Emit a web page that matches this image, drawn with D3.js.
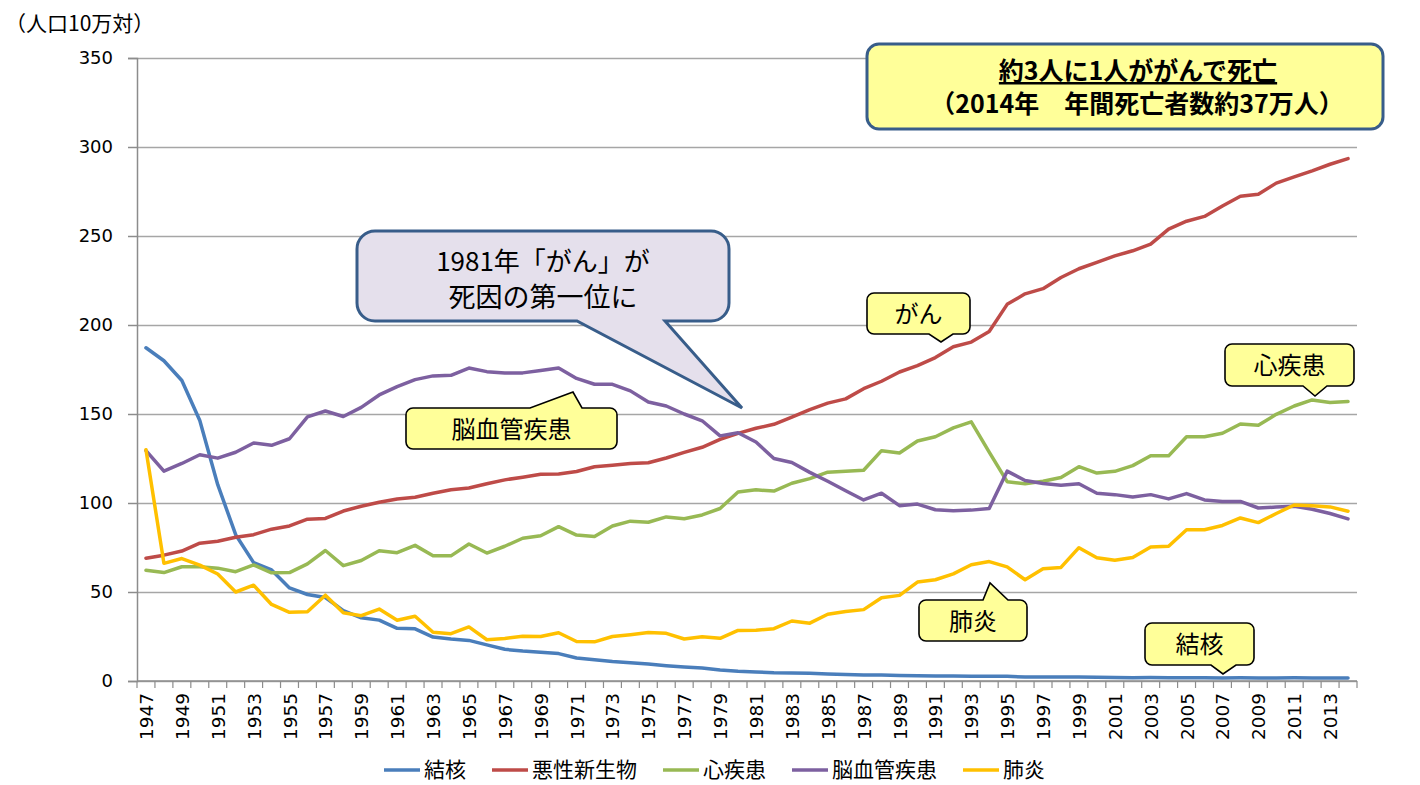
<!DOCTYPE html>
<html lang="ja">
<head>
<meta charset="utf-8">
<title>主要死因別死亡率の推移</title>
<script src="https://cdn.jsdelivr.net/npm/d3@7"></script>
<style>
  body { margin: 0; background: #fff; }
  svg { display: block; }
  .jp { font-family: "Noto Sans CJK JP", "Noto Sans", sans-serif; }
  .num { font-family: "DejaVu Sans", sans-serif; }
</style>
</head>
<body>
<div id="chart"></div>
<script>
// categories
var years = d3.range(1947, 2015);
var seriesNames = ["結核", "悪性新生物", "心疾患", "脳血管疾患", "肺炎"];
var seriesColors = ["#4a7ebb", "#be4b48", "#98b954", "#7d60a0", "#ffc000"];
var yTicks = [0, 50, 100, 150, 200, 250, 300, 350];

// death rates per 100,000, 1947..2014
var tuberculosis = [187.2,179.9,168.8,146.4,110.3,82.2,66.5,62.4,52.3,48.6,46.9,39.5,35.5,34.2,29.6,29.3,24.7,23.6,22.8,20.3,
  17.8,16.8,16.1,15.4,12.9,11.9,10.9,10.3,9.5,8.6,7.9,7.3,6.2,5.5,5.1,4.6,4.5,4.3,3.9,3.6,
  3.4,3.4,3.1,3.0,2.8,2.8,2.6,2.6,2.6,2.3,2.2,2.2,2.3,2.1,2.0,1.8,1.9,1.8,1.8,1.8,
  1.7,1.8,1.7,1.7,1.8,1.7,1.7,1.7];
var cancer = [69.0,70.7,73.0,77.4,78.5,80.8,82.2,85.3,87.1,90.9,91.3,95.5,98.2,100.4,102.3,103.2,105.5,107.4,108.4,110.8,
  113.0,114.5,116.1,116.3,117.7,120.4,121.2,122.2,122.6,125.3,128.4,131.3,135.7,139.1,142.0,144.2,148.3,152.5,156.1,158.5,
  164.2,168.4,173.6,177.2,181.7,187.8,190.4,196.4,211.6,217.5,220.4,226.7,231.6,235.2,238.8,241.7,245.4,253.9,258.3,261.0,
  266.9,272.3,273.5,279.7,283.2,286.6,290.3,293.5];
var heart = [62.2,60.9,64.2,64.2,63.4,61.4,65.2,60.8,60.9,65.8,73.3,64.8,67.7,73.2,72.1,76.2,70.4,70.3,77.0,71.9,
  75.7,80.2,81.6,86.7,82.0,81.2,87.1,89.8,89.2,92.2,91.2,93.3,96.9,106.2,107.4,106.7,111.1,113.7,117.3,117.9,
  118.4,129.4,128.1,134.8,137.2,142.2,145.6,128.6,112.0,110.8,112.2,114.3,120.4,116.8,117.8,121.0,126.5,126.5,137.2,137.2,
  139.2,144.4,143.7,149.8,154.5,157.9,156.5,157.0];
var cerebro = [129.4,117.9,122.2,127.1,125.2,128.5,133.7,132.4,136.1,148.4,151.7,148.6,153.7,160.7,165.4,169.3,171.4,171.7,175.8,173.8,
  173.1,173.1,174.4,175.8,170.0,166.7,166.7,163.0,156.7,154.5,150.0,146.2,137.7,139.5,134.3,125.0,122.8,117.2,112.2,106.9,
  101.7,105.5,98.5,99.4,96.2,95.6,96.0,96.9,117.9,112.6,111.0,110.0,110.8,105.5,104.7,103.4,104.7,102.3,105.3,101.7,
  100.8,100.9,97.2,97.7,98.2,96.5,94.1,91.1];
var pneumonia = [129.9,66.1,68.8,65.1,60.1,50.0,53.8,43.0,38.6,38.9,48.2,38.3,36.7,40.4,34.1,36.4,27.4,26.6,30.4,23.2,
  23.9,25.2,25.0,27.1,22.2,22.0,25.0,26.0,27.2,26.8,23.6,24.9,24.0,28.4,28.5,29.4,33.7,32.5,37.5,39.0,
  40.1,46.8,48.1,55.6,56.9,60.2,65.3,67.1,64.1,56.9,63.1,63.8,74.9,69.2,67.8,69.4,75.3,75.7,85.0,85.0,
  87.4,91.6,89.0,94.1,98.9,98.4,97.8,95.4];
var seriesValues = [tuberculosis, cancer, heart, cerebro, pneumonia];

var W = 1420, H = 785;
var plot = {left: 137, right: 1357, top: 58, bottom: 681};

var svg = d3.select("#chart").append("svg").attr("width", W).attr("height", H);

var x = d3.scaleBand().domain(years).range([plot.left, plot.right]);
var y = d3.scaleLinear().domain([0, 350]).range([plot.bottom, plot.top]);
var cx = function(yr) { return x(yr) + x.bandwidth() / 2; };

// gridlines
svg.append("g")
  .attr("transform", "translate(" + plot.left + ",0)")
  .call(d3.axisLeft(y).tickValues(yTicks).tickSize(-(plot.right - plot.left)).tickFormat(""))
  .call(function(g) {
    g.select(".domain").remove();
    g.selectAll("line").attr("stroke", "#a6a6a6").attr("stroke-width", 1.5);
  });

// y axis
svg.append("g")
  .attr("transform", "translate(" + plot.left + ",0)")
  .call(d3.axisLeft(y).tickValues(yTicks).tickSize(9).tickPadding(15))
  .call(function(g) {
    g.select(".domain").attr("stroke", "#8c8c8c").attr("stroke-width", 1.5);
    g.selectAll("line").attr("stroke", "#8c8c8c").attr("stroke-width", 1.5);
    g.selectAll("text").attr("class", "num").attr("font-size", 18).attr("fill", "#000");
  });

svg.append("text").attr("class", "jp").attr("x", 5).attr("y", 31)
  .attr("font-size", 21).text("（人口10万対）");

// x axis
var xg = svg.append("g");
xg.append("line")
  .attr("x1", plot.left).attr("x2", plot.right)
  .attr("y1", plot.bottom).attr("y2", plot.bottom)
  .attr("stroke", "#8c8c8c").attr("stroke-width", 1.5);
xg.selectAll("line.tick").data(years.concat([null])).enter().append("line")
  .attr("class", "tick")
  .attr("x1", function(d) { return d === null ? plot.right : x(d); })
  .attr("x2", function(d) { return d === null ? plot.right : x(d); })
  .attr("y1", plot.bottom).attr("y2", plot.bottom + 7)
  .attr("stroke", "#8c8c8c").attr("stroke-width", 1.2);
xg.selectAll("text").data(years.filter(function(d) { return d % 2 === 1; })).enter().append("text")
  .attr("class", "num")
  .attr("font-size", 18.5)
  .attr("text-anchor", "end")
  .attr("transform", function(d) { return "translate(" + (cx(d) + 7) + "," + (plot.bottom + 12) + ") rotate(-90)"; })
  .text(function(d) { return d; });

// series lines
var line = d3.line()
  .x(function(d, i) { return cx(years[i]); })
  .y(function(d) { return y(d); });

svg.append("g").selectAll("path").data(seriesValues).enter().append("path")
  .attr("d", line)
  .attr("fill", "none")
  .attr("stroke", function(d, i) { return seriesColors[i]; })
  .attr("stroke-width", 3.5)
  .attr("stroke-linejoin", "round")
  .attr("stroke-linecap", "round");

// legend
var lg = svg.append("g").attr("transform", "translate(0,770)");
var lx = 384;
seriesNames.forEach(function(name, i) {
  lg.append("line").attr("x1", lx).attr("x2", lx + 36).attr("y1", 0).attr("y2", 0)
    .attr("stroke", seriesColors[i]).attr("stroke-width", 3.5);
  var t = lg.append("text").attr("class", "jp").attr("x", lx + 40).attr("y", 7)
    .attr("font-size", 21).text(name);
  lx += 40 + t.node().getComputedTextLength() + 26;
});

// callouts
function calloutPath(bx, by, w, h, r, side, a, b, tx, ty) {
  var d = "M" + (bx + r) + "," + by;
  if (side === "top") d += "L" + a + "," + by + "L" + tx + "," + ty + "L" + b + "," + by;
  d += "L" + (bx + w - r) + "," + by + "A" + r + "," + r + " 0 0 1 " + (bx + w) + "," + (by + r);
  d += "L" + (bx + w) + "," + (by + h - r) + "A" + r + "," + r + " 0 0 1 " + (bx + w - r) + "," + (by + h);
  if (side === "bottom") d += "L" + b + "," + (by + h) + "L" + tx + "," + ty + "L" + a + "," + (by + h);
  d += "L" + (bx + r) + "," + (by + h) + "A" + r + "," + r + " 0 0 1 " + bx + "," + (by + h - r);
  d += "L" + bx + "," + (by + r) + "A" + r + "," + r + " 0 0 1 " + (bx + r) + "," + by + "Z";
  return d;
}

var labels = [
  {text: "がん", box: [867, 293, 103, 41], side: "bottom", p: [929, 953, 941, 342]},
  {text: "心疾患", box: [1225, 344, 129, 42], side: "bottom", p: [1303, 1327, 1315, 396]},
  {text: "脳血管疾患", box: [406, 408, 211, 41], side: "top", p: [530, 582, 573, 392]},
  {text: "肺炎", box: [919, 600, 108, 41], side: "top", p: [983, 1008, 990, 583]},
  {text: "結核", box: [1145, 623, 109, 42], side: "bottom", p: [1211, 1236, 1223, 674]}
];
labels.forEach(function(c) {
  var bx = c.box[0], by = c.box[1], w = c.box[2], h = c.box[3];
  svg.append("path")
    .attr("d", calloutPath(bx, by, w, h, 7, c.side, c.p[0], c.p[1], c.p[2], c.p[3]))
    .attr("fill", "#ffff99").attr("stroke", "#000").attr("stroke-width", 1.6);
  svg.append("text").attr("class", "jp")
    .attr("x", bx + w / 2).attr("y", by + h / 2 + 9)
    .attr("text-anchor", "middle").attr("font-size", 24).text(c.text);
});

// big callout
svg.append("path")
  .attr("d", calloutPath(357, 231, 372, 90, 18, "bottom", 577, 665, 742, 408))
  .attr("fill", "#e5e0ec").attr("stroke", "#385d8a").attr("stroke-width", 3);
svg.append("text").attr("class", "jp").attr("x", 543).attr("y", 271)
  .attr("text-anchor", "middle").attr("font-size", 26).text("1981年「がん」が");
svg.append("text").attr("class", "jp").attr("x", 543).attr("y", 307)
  .attr("text-anchor", "middle").attr("font-size", 27).text("死因の第一位に");

// summary box
svg.append("rect").attr("x", 867).attr("y", 44).attr("width", 516).attr("height", 85)
  .attr("rx", 12).attr("fill", "#ffff99").attr("stroke", "#385d8a").attr("stroke-width", 3);
svg.append("text").attr("class", "jp").attr("x", 1138).attr("y", 80)
  .attr("text-anchor", "middle").attr("font-size", 25).attr("font-weight", "bold")
  .attr("text-decoration", "underline").text("約3人に1人ががんで死亡");
svg.append("text").attr("class", "jp").attr("x", 1137).attr("y", 113)
  .attr("text-anchor", "middle").attr("font-size", 25).attr("font-weight", "bold")
  .text("（2014年　年間死亡者数約37万人）");
</script>
</body>
</html>
